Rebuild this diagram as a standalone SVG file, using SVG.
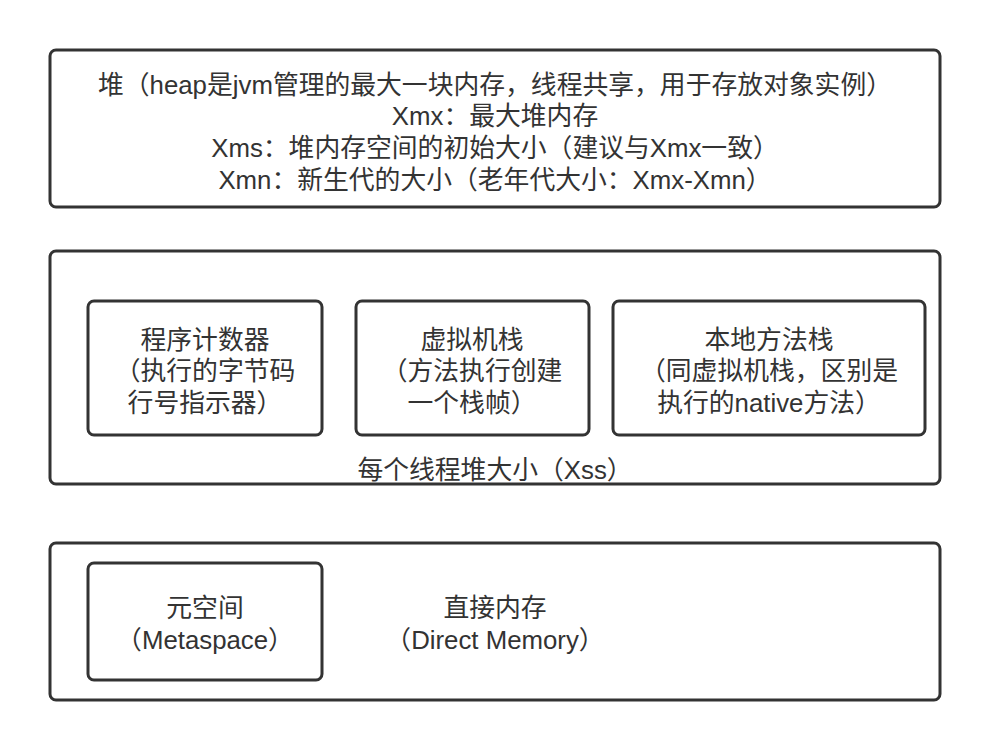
<svg xmlns="http://www.w3.org/2000/svg" width="990" height="751" viewBox="0 0 990 751">
<style>
.box{fill:#fff;stroke:#333;stroke-width:3}
text{font-family:"Liberation Sans","Noto Sans CJK SC",sans-serif;font-size:25.8px;fill:#333;text-anchor:middle}
</style>
<rect width="990" height="751" fill="#fff"/>
<g id="heap">
<rect class="box" x="50" y="50" width="890" height="157" rx="6"/>
<text x="495" y="94">堆（heap是jvm管理的最大一块内存，线程共享，用于存放对象实例）</text>
<text x="495" y="125">Xmx：最大堆内存</text>
<text x="495" y="157">Xms：堆内存空间的初始大小（建议与Xmx一致）</text>
<text x="495" y="189">Xmn：新生代的大小（老年代大小：Xmx-Xmn）</text>
</g>
<g id="thread">
<rect class="box" x="50" y="251" width="890" height="233" rx="6"/>
<text x="495" y="479">每个线程堆大小（Xss）</text>
</g>
<g id="pc">
<rect class="box" x="88" y="301" width="234" height="134" rx="6"/>
<text x="205" y="349">程序计数器</text>
<text x="205" y="380">（执行的字节码</text>
<text x="205" y="412">行号指示器）</text>
</g>
<g id="vmstack">
<rect class="box" x="356" y="301" width="233" height="134" rx="6"/>
<text x="472" y="349">虚拟机栈</text>
<text x="472" y="380">（方法执行创建</text>
<text x="472" y="412">一个栈帧）</text>
</g>
<g id="nativestack">
<rect class="box" x="613" y="301" width="312" height="134" rx="6"/>
<text x="769" y="349">本地方法栈</text>
<text x="769" y="380">（同虚拟机栈，区别是</text>
<text x="769" y="412">执行的native方法）</text>
</g>
<g id="offheap">
<rect class="box" x="50" y="543" width="890" height="157" rx="6"/>
</g>
<g id="metaspace">
<rect class="box" x="88" y="563" width="234" height="117" rx="6"/>
<text x="205" y="617">元空间</text>
<text x="205" y="649">（Metaspace）</text>
</g>
<g id="direct">
<text x="495" y="617">直接内存</text>
<text x="495" y="649">（Direct Memory）</text>
</g>
<g id="connectors"/>
</svg>
